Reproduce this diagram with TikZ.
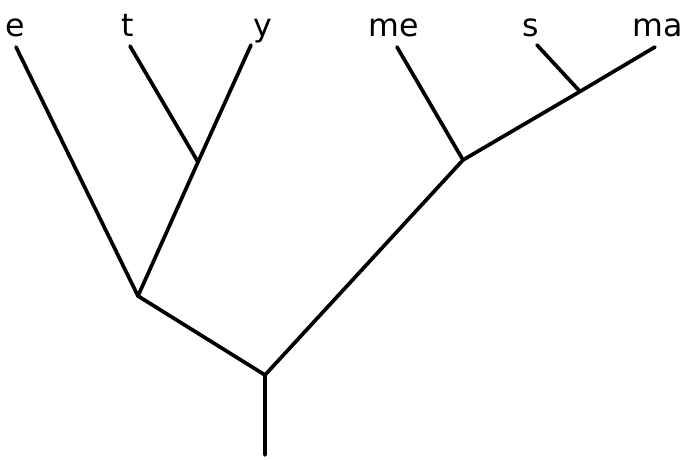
\documentclass[tikz,border=0pt]{standalone}
\usepackage{fontspec}
\setmainfont{DejaVu Sans}
\usepackage{tikz}
\usetikzlibrary{positioning}

\begin{document}
\begin{tikzpicture}[
    branch/.style={line width=2.1pt,line cap=round,line join=round},
    taxon/.style={anchor=base,inner sep=0pt,font=\fontsize{18}{20}\selectfont}]
    \useasboundingbox (0,0) rectangle (13.64,-9.20);
    % junctions
    \coordinate (root) at (5.30,-9.10);
    \coordinate (nA) at (5.30,-7.50);
    \coordinate (nB) at (2.76,-5.92);
    \coordinate (nC) at (3.96,-3.24);
    \coordinate (nD) at (9.26,-3.20);
    \coordinate (nE) at (11.60,-1.83);
    % tips
    \coordinate (te) at (0.32,-0.94);
    \coordinate (tt) at (2.60,-0.92);
    \coordinate (ty) at (5.02,-0.90);
    \coordinate (tme) at (7.94,-0.94);
    \coordinate (ts) at (10.74,-0.90);
    \coordinate (tma) at (13.10,-0.94);
    % labels
    \node[taxon] (e) at (0.30,-0.72) {e};
    \node[taxon] (t) at (2.56,-0.72) {t};
    \node[taxon] (y) at (5.26,-0.72) {y};
    \node[taxon] (me) at (7.88,-0.72) {me};
    \node[taxon] (s) at (10.62,-0.72) {s};
    \node[taxon] (ma) at (13.16,-0.72) {ma};

    \draw[branch] (root) -- (nA) -- (nB) -- (te);
    \draw[branch] (nB) -- (nC) -- (ty);
    \draw[branch] (nC) -- (tt);
    \draw[branch] (nA) -- (nD) -- (tme);
    \draw[branch] (nD) -- (nE) -- (tma);
    \draw[branch] (nE) -- (ts);
  \end{tikzpicture}
\end{document}
